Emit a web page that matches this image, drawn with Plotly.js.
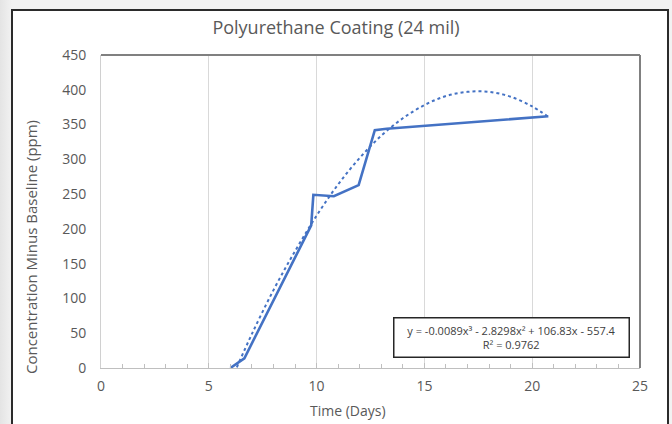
<!DOCTYPE html>
<html>
<head>
<meta charset="utf-8">
<script src="https://cdn.plot.ly/plotly-3.0.1.min.js"></script>
<style>
  html, body { margin:0; padding:0; width:672px; height:424px; overflow:hidden;
    background: linear-gradient(90deg, #e4e4e4 0px, #f2f2f2 12px); }
  #frame { position:absolute; left:11px; top:9px; width:654px; height:440px;
    border:2px solid #2b2b2b; background:#ffffff; }
  #chart { position:absolute; left:0; top:0; width:672px; height:424px; }
</style>
</head>
<body>
<div id="frame"></div>
<div id="chart"></div>
<script>
// Measured series (days, ppm)
const days = [6.0, 6.65, 9.75, 9.85, 10.8, 11.95, 12.7, 13.25, 20.75];
const ppm  = [0, 14, 205, 249, 247, 263, 342, 344, 362];

// Poly trend (dotted)
const trendDays = [6.3, 7, 8, 9, 10, 11, 12, 13, 14, 15, 16, 17, 18, 19, 20, 20.7];
const trendPpm  = [1, 49, 112, 168, 219, 264, 302, 334, 359, 378, 391, 397, 397, 390, 376, 362];

const titleText = "Polyurethane Coating (24 mil)";
const xTitle = "Time (Days)";
const yTitle = "Concentration Minus Baseline (ppm)";
const eqLine1 = "y = -0.0089x³ - 2.8298x² + 106.83x - 557.4";
const eqLine2 = "R² = 0.9762";

const blue = "#4472C4";
const txt = "#595959";
const font = "Open Sans";

const traces = [
  { x: trendDays, y: trendPpm, type: "scatter", mode: "lines",
    line: { color: blue, width: 2, dash: "dot", shape: "spline" }, hoverinfo: "skip" },
  { x: days, y: ppm, type: "scatter", mode: "lines",
    line: { color: blue, width: 2.6 } }
];

const layout = {
  width: 672, height: 424,
  margin: { l: 101, r: 32, t: 55, b: 56 },
  paper_bgcolor: "rgba(0,0,0,0)",
  plot_bgcolor: "#ffffff",
  showlegend: false,
  font: { family: font, color: txt, size: 14 },
  title: { text: titleText, x: 0.5, xanchor: "center", y: 0.934, yanchor: "middle",
           font: { family: font, size: 18, color: txt } },
  xaxis: {
    range: [0, 25], dtick: 5, tick0: 0,
    showgrid: true, gridcolor: "#d9d9d9", gridwidth: 1,
    showline: true, linecolor: "#bfbfbf", linewidth: 1,
    zeroline: false,
    ticks: "inside", ticklen: 5, tickcolor: "#bfbfbf",
    minor: { dtick: 1, ticks: "inside", ticklen: 4, tickcolor: "#bfbfbf", showgrid: false },
    tickfont: { size: 14, color: txt },
    ticklabelstandoff: 5,
    fixedrange: true
  },
  yaxis: {
    range: [0, 450], dtick: 50, tick0: 0,
    showgrid: false, zeroline: false,
    showline: true, linecolor: "#d0d0d0", linewidth: 1,
    ticks: "", ticklen: 0,
    tickfont: { size: 14, color: txt },
    ticklabelstandoff: 11,
    fixedrange: true
  },
  shapes: [
    { type: "line", xref: "paper", yref: "paper", x0: 0, x1: 1, y0: 1, y1: 1,
      line: { color: "#808080", width: 2 } },
    { type: "line", xref: "paper", yref: "paper", x0: 1, x1: 1, y0: 0, y1: 1,
      line: { color: "#808080", width: 2 } }
  ],
  annotations: [
    { xref: "paper", yref: "paper", x: 0.7625, y: 0.099, xanchor: "center", yanchor: "middle",
      text: eqLine1 + "<br>" + eqLine2, showarrow: false, align: "center",
      font: { size: 11, color: "#404040", family: font },
      bgcolor: "#ffffff", bordercolor: "#262626", borderwidth: 1.5, borderpad: 2,
      width: 230, height: 34 },
    { xref: "paper", yref: "paper", x: (31 - 101) / 539, y: (368 - 247) / 313,
      xanchor: "center", yanchor: "middle", textangle: -90, showarrow: false,
      text: yTitle, font: { size: 15, color: txt, family: font } },
    { xref: "paper", yref: "paper", x: (348 - 101) / 539, y: (368 - 410) / 313,
      xanchor: "center", yanchor: "middle", showarrow: false,
      text: xTitle, font: { size: 14, color: txt, family: font } }
  ]
};

Plotly.newPlot("chart", traces, layout, { displayModeBar: false, staticPlot: true });
</script>
</body>
</html>
